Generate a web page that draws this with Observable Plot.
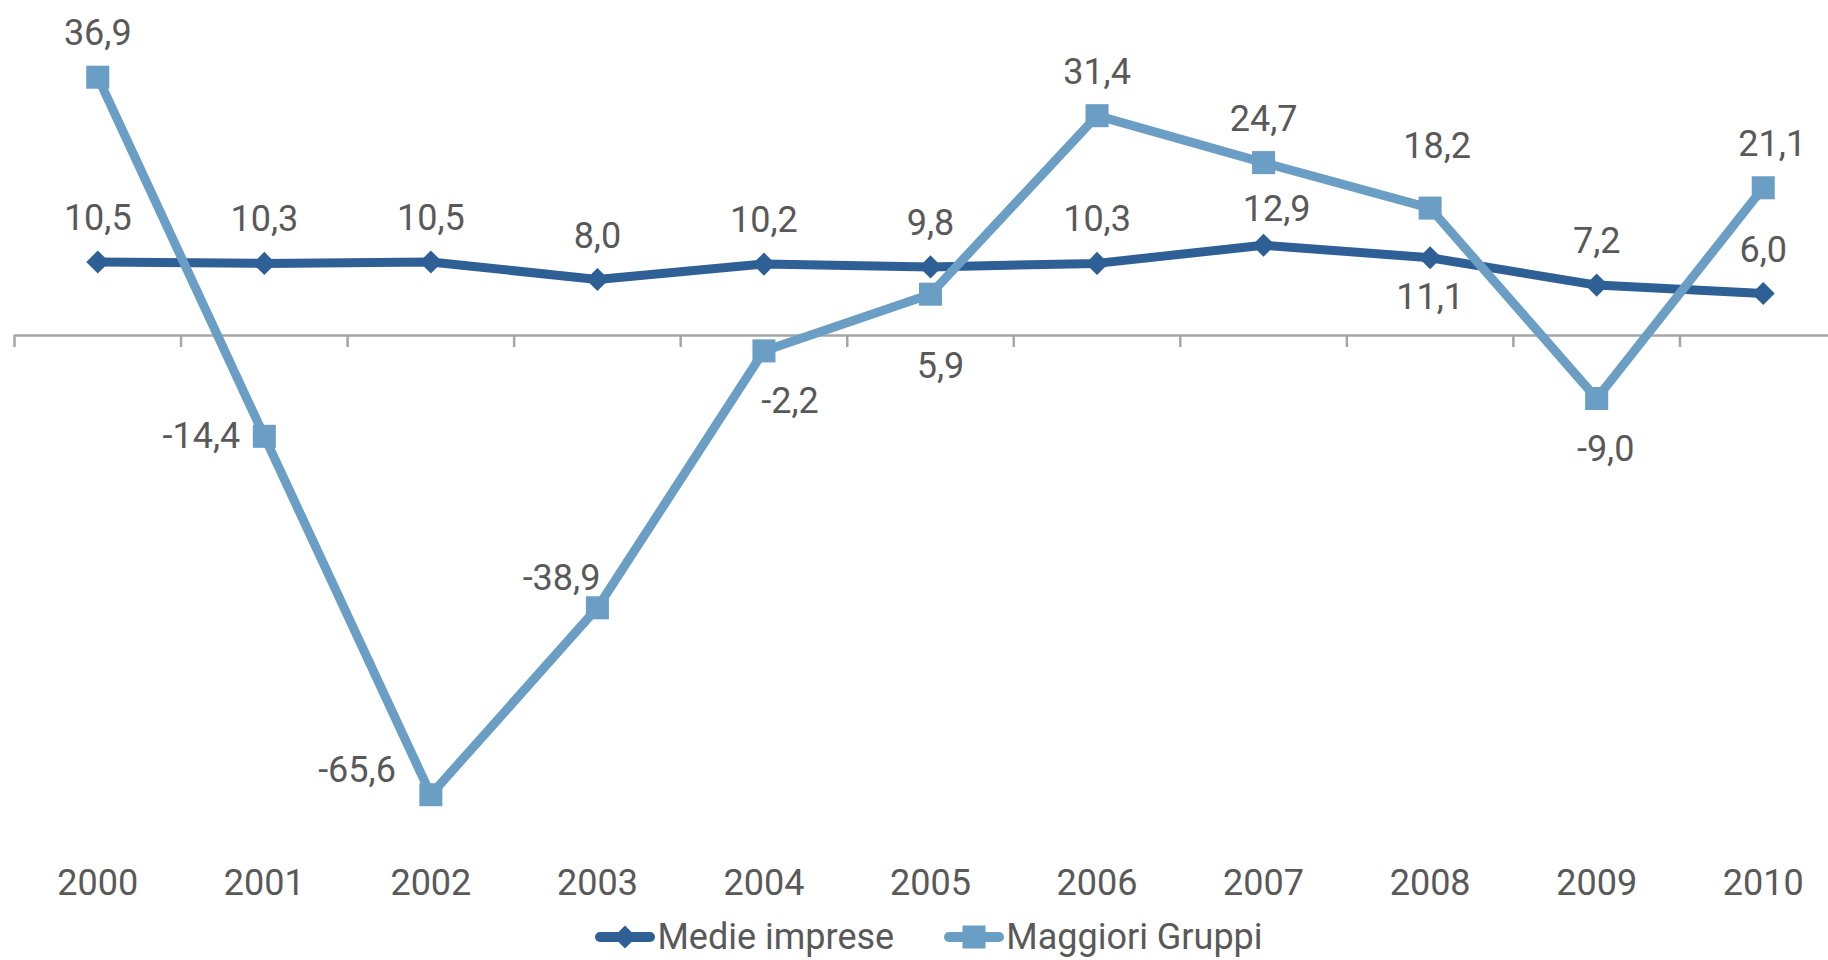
<!DOCTYPE html>
<html>
<head>
<meta charset="utf-8">
<script src="https://cdn.jsdelivr.net/npm/d3@7"></script>
<script src="https://cdn.jsdelivr.net/npm/@observablehq/plot@0.6"></script>
<style>
  html, body { margin: 0; padding: 0; background: #fff; overflow: hidden; width: 1828px; height: 960px; }
  #chart svg { display: block; }
  .legend { height: 50px; box-sizing: border-box; padding-top: 4px; display: flex; justify-content: center; align-items: center; padding-left: 30px;
            font-family: Roboto, sans-serif; font-size: 36px; color: #595959; line-height: 46px; }
  .item { display: flex; align-items: center; }
  .item + .item { margin-left: 50px; }
  .item svg { margin-right: 2px; display: block; }
</style>
</head>
<body>
<div id="chart"></div>
<div class="legend" id="legend"></div>
<script>
// ---- data ----
const years = [2000, 2001, 2002, 2003, 2004, 2005, 2006, 2007, 2008, 2009, 2010];
const medie = [10.5, 10.3, 10.5, 8.0, 10.2, 9.8, 10.3, 12.9, 11.1, 7.2, 6.0];
const maggiori = [36.9, -14.4, -65.6, -38.9, -2.2, 5.9, 31.4, 24.7, 18.2, -9.0, 21.1];
const seriesNames = ["Medie imprese", "Maggiori Gruppi"];
// label placement keywords (per point)
const medieLabelSide = ["above", "above", "above", "above", "above", "above", "above", "aboveRightLow", "below", "above", "above"];
const maggioriLabelSide = ["above", "left", "upLeft", "aboveLeft", "belowRight", "farBelow", "above", "above", "highAbove", "belowNear", "aboveRight"];

// ---- styles ----
const darkBlue = "#2E5F95";
const lightBlue = "#6B9EC4";
const textGray = "#595959";
const axisGray = "#A6A6A6";

const placements = {
  above:         {dx: 0,   dy: -32, anchor: "middle"},
  below:         {dx: 0,   dy: 51,  anchor: "middle"},
  left:          {dx: -24, dy: 12,  anchor: "end"},
  upLeft:        {dx: -35, dy: -13, anchor: "end"},
  aboveLeft:     {dx: 3,   dy: -18, anchor: "end"},
  belowRight:    {dx: 26,  dy: 62,  anchor: "middle"},
  farBelow:      {dx: 10,  dy: 84,  anchor: "middle"},
  highAbove:     {dx: 7,   dy: -50, anchor: "middle"},
  belowNear:     {dx: 9,   dy: 62,  anchor: "middle"},
  aboveRight:    {dx: 9,   dy: -32, anchor: "middle"},
  aboveRightLow: {dx: 13,  dy: -24, anchor: "middle"}
};

const fmt = v => v.toFixed(1).replace(".", ",");

const medieRows = years.map((year, i) => ({year, value: medie[i], series: seriesNames[0], side: medieLabelSide[i]}));
const maggRows = years.map((year, i) => ({year, value: maggiori[i], series: seriesNames[1], side: maggioriLabelSide[i]}));
const allRows = medieRows.concat(maggRows);

const xDomain = [years[0] - 0.5, years[years.length - 1] + 0.5];
const bounds = years.map(y => y - 0.5).concat([years[years.length - 1] + 0.5]);

const labelMarks = Object.entries(placements).map(([key, p]) =>
  Plot.text(allRows.filter(d => d.side === key), {
    x: "year", y: "value", text: d => fmt(d.value),
    dx: p.dx, dy: p.dy, textAnchor: p.anchor, lineAnchor: "bottom",
    fontSize: 36, fill: textGray, letterSpacing: "0.5px"
  })
);

const plot = Plot.plot({
  width: 1828,
  height: 910,
  margin: 0,
  x: {type: "linear", domain: xDomain, range: [14, 1846], axis: null},
  y: {domain: [-80, 40], range: [895, 55], axis: null},
  style: {fontFamily: "Roboto, sans-serif", background: "white"},
  marks: [
    Plot.ruleY([0], {x1: xDomain[0], x2: xDomain[1], stroke: axisGray, strokeWidth: 2.5}),
    Plot.ruleX(bounds, {x: d => d, y1: 0, y2: 0, insetBottom: -12, stroke: axisGray, strokeWidth: 2.5}),
    Plot.text(years, {x: d => d, frameAnchor: "bottom", lineAnchor: "bottom", dy: -16, text: d => String(d), fontSize: 36, fill: textGray}),
    Plot.line(medieRows, {x: "year", y: "value", stroke: darkBlue, strokeWidth: 9, strokeLinejoin: "round"}),
    Plot.dot(medieRows, {x: "year", y: "value", symbol: "diamond2", r: 10.4, fill: darkBlue, stroke: null}),
    Plot.line(maggRows, {x: "year", y: "value", stroke: lightBlue, strokeWidth: 9, strokeLinejoin: "round"}),
    Plot.dot(maggRows, {x: "year", y: "value", symbol: "square", r: 13, fill: lightBlue, stroke: null}),
    ...labelMarks
  ]
});
document.getElementById("chart").appendChild(plot);

// ---- legend ----
const legend = d3.select("#legend");
const legendDefs = [
  {name: seriesNames[0], color: darkBlue, marker: "diamond"},
  {name: seriesNames[1], color: lightBlue, marker: "square"}
];
legendDefs.forEach(def => {
  const item = legend.append("div").attr("class", "item");
  const svg = item.append("svg").attr("width", 60).attr("height", 26);
  svg.append("line").attr("x1", 5).attr("x2", 55).attr("y1", 13).attr("y2", 13)
    .attr("stroke", def.color).attr("stroke-width", 10).attr("stroke-linecap", "round");
  if (def.marker === "diamond") {
    svg.append("path").attr("d", "M30,1.5L41.5,13L30,24.5L18.5,13Z").attr("fill", def.color);
  } else {
    svg.append("rect").attr("x", 18.5).attr("y", 1.5).attr("width", 23).attr("height", 23).attr("fill", def.color);
  }
  item.append("span").text(def.name);
});
</script>
</body>
</html>
